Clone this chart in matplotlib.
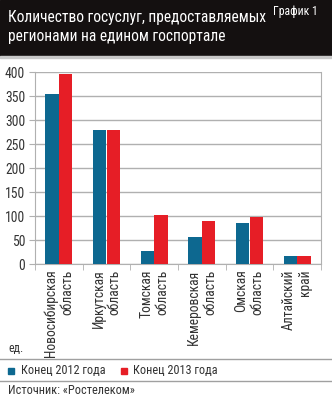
import numpy as np
import matplotlib.pyplot as plt
from matplotlib import font_manager
from matplotlib.patches import Rectangle
from matplotlib.lines import Line2D

regions = ["Новосибирская\nобласть", "Иркутская\nобласть", "Томская\nобласть",
           "Кемеровская\nобласть", "Омская\nобласть", "Алтайский\nкрай"]
end_2012 = [355, 280, 27, 57, 86, 17]
end_2013 = [395, 280, 103, 90, 98, 17]
series_names = ["Конец 2012 года", "Конец 2013 года"]

BLUE = "#0d6890"
RED = "#e61e26"
GRID = "#b0b0b0"
TEXT = "#333333"

# narrow sans first, plain ones as fallback
names = {f.name for f in font_manager.fontManager.ttflist}
wanted = ["Roboto Condensed", "PT Sans Narrow", "Archivo Narrow", "Liberation Sans Narrow",
          "Roboto", "DejaVu Sans"]
plt.rcParams["font.family"] = [n for n in wanted if n in names] or ["DejaVu Sans"]

fig = plt.figure(figsize=(3.32, 4.0), dpi=100)
W, H = 332, 400


def px(xp, yp):
    return xp / W, 1 - yp / H


# header band
fig.patches.append(Rectangle(px(0, 56), 1, 56 / H, transform=fig.transFigure,
                             color="#141010", zorder=0))
fig.patches.append(Rectangle(px(0, 58), 1, 2 / H, transform=fig.transFigure,
                             color="#c8c8c8", zorder=0))
fig.text(*px(8, 27), "Количество госуслуг, предоставляемых\nрегионами на едином госпортале",
         color="white", fontsize=11.2, va="center", ha="left", linespacing=1.35)
fig.text(*px(273, 12), "График 1", color="white", fontsize=8.5, va="center", ha="left")

ax = fig.add_axes([35 / W, 1 - 264 / H, (321 - 35) / W, (264 - 72) / H])
x = np.arange(len(regions))
w = 0.285
ax.bar(x - w / 2, end_2012, w, color=BLUE, zorder=3)
ax.bar(x + w / 2, end_2013, w, color=RED, zorder=3)

ax.set_xlim(-0.5, len(regions) - 0.5)
ax.set_ylim(0, 400)
ax.set_yticks(range(0, 401, 50))
ax.yaxis.grid(True, color=GRID, lw=1, zorder=0)
ax.set_xticks(x)
ax.set_xticklabels(regions, rotation=90, fontsize=9.8, color=TEXT,
                   ha="center", va="top", multialignment="right", linespacing=1.2)
ax.set_xticks(np.arange(-0.5, len(regions)), minor=True)
ax.tick_params(axis="x", which="major", length=0, pad=4)
ax.tick_params(axis="x", which="minor", length=4, color=GRID)
ax.tick_params(axis="y", length=4, color=GRID, labelsize=9.8, labelcolor=TEXT, pad=3)
ax.spines["top"].set_visible(False)
for side in ["left", "right", "bottom"]:
    ax.spines[side].set_color(GRID)

fig.text(*px(8, 349), "ед.", fontsize=8.5, color=TEXT, va="center")

for yy in (359, 381):
    fig.add_artist(Line2D([0, 1], [1 - yy / H] * 2, transform=fig.transFigure,
                          color="#a0a0a0", lw=1))

# legend: small squares with labels
for (sx, tx), color, label in zip([(8, 21), (121, 133)], [BLUE, RED], series_names):
    fig.patches.append(Rectangle(px(sx, 374), 6 / W, 6 / H, transform=fig.transFigure,
                                 color=color))
    fig.text(*px(tx, 371), label, fontsize=8.8, color=TEXT, va="center", ha="left")

fig.text(*px(8, 391), "Источник: «Ростелеком»", fontsize=8.8, color=TEXT, va="center")

fig.savefig("out.png", dpi=100, facecolor="white")
